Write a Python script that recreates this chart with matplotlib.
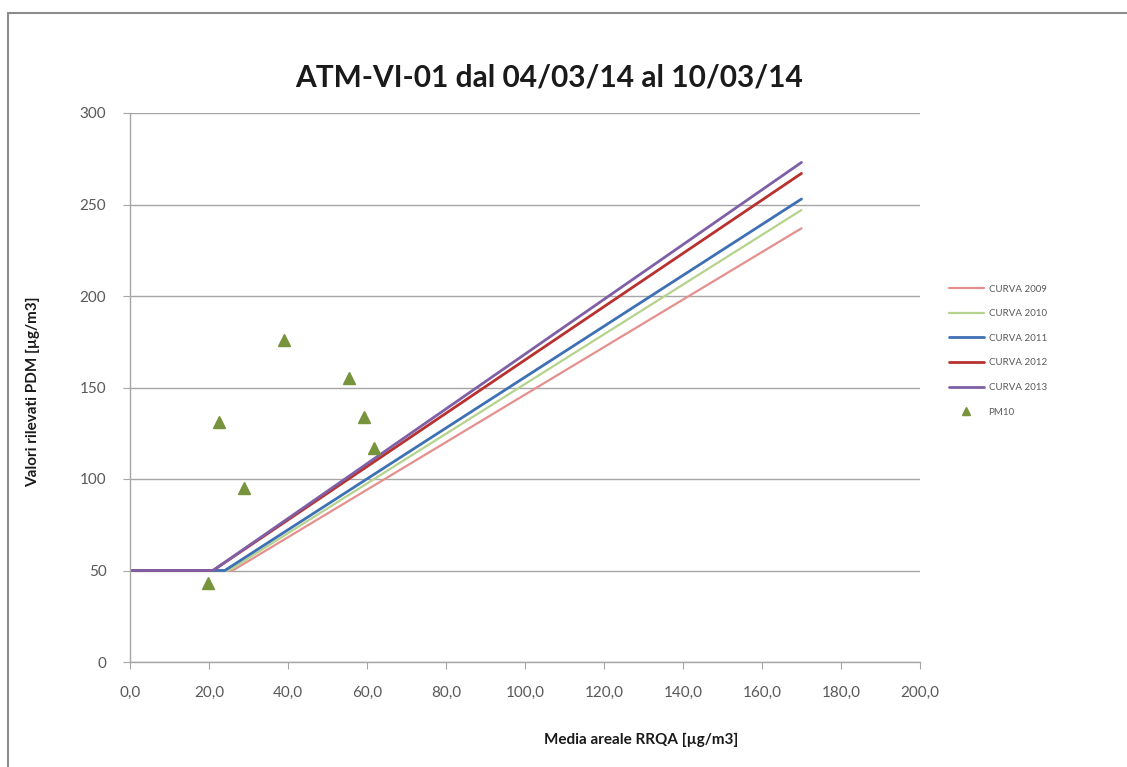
import matplotlib.pyplot as plt
from matplotlib.patches import Rectangle
from matplotlib.ticker import FuncFormatter

plt.rcParams['font.family'] = ['Lato', 'DejaVu Sans']

# curve data: flat at 50 up to a break point, then straight up to x=170
curve_names = ["CURVA 2009", "CURVA 2010", "CURVA 2011", "CURVA 2012", "CURVA 2013"]
curve_x = [[0, 26, 170], [0, 25, 170], [0, 24, 170], [0, 21, 170], [0, 21, 170]]
curve_y = [[50, 50, 237], [50, 50, 247], [50, 50, 253], [50, 50, 267], [50, 50, 273]]
curve_colors = ["#E5908E", "#B5D38C", "#3E70B5", "#B8312F", "#7F60A6"]
curve_widths = [1.6, 1.6, 2.0, 2.0, 2.0]

# PM10 measurements
pm10_x = [19.7, 22.5, 28.9, 39.0, 55.5, 59.2, 61.7]
pm10_y = [43, 131, 95, 176, 155, 134, 117]

fig = plt.figure(figsize=(11.27, 7.67), dpi=100)
ax = fig.add_axes([130/1127, 105/767, 790/1127, 549/767])

for i in range(len(curve_names)):
    ax.plot(curve_x[i], curve_y[i], color=curve_colors[i], lw=curve_widths[i],
            label=curve_names[i], solid_capstyle='round')
ax.plot(pm10_x, pm10_y, linestyle='none', marker='^', ms=9, color="#77933C",
        label="PM10")

ax.set_xlim(0, 200)
ax.set_ylim(0, 300)
ax.set_xticks(range(0, 201, 20))
ax.set_yticks(range(0, 301, 50))
ax.xaxis.set_major_formatter(FuncFormatter(lambda v, p: ("%.1f" % v).replace(".", ",")))
ax.grid(axis='y', color="#A6A6A6", lw=1)
ax.set_axisbelow(True)
for s in ['top', 'right']:
    ax.spines[s].set_visible(False)
for s in ['left', 'bottom']:
    ax.spines[s].set_color("#A6A6A6")
    ax.spines[s].set_linewidth(1)
ax.tick_params(colors="#A6A6A6", labelcolor="#595959", labelsize=11, length=5)
ax.tick_params(axis='x', pad=12)
ax.tick_params(axis='y', pad=12)

fig.text(549/1127, 1 - 78/767, "ATM-VI-01 dal 04/03/14 al 10/03/14", ha='center',
         va='center', fontsize=21.5, fontweight='bold', color="#1a1a1a")
fig.text(641/1127, 1 - 740/767, "Media areale RRQA [µg/m3]", ha='center',
         va='center', fontsize=11, fontweight='bold', color="#1a1a1a")
fig.text(33/1127, 1 - 392/767, "Valori rilevati PDM [µg/m3]", ha='center',
         va='center', fontsize=11, fontweight='bold', color="#1a1a1a", rotation=90)

leg = ax.legend(loc='upper left', bbox_to_anchor=(940/1127, 1 - 276/767),
                bbox_transform=fig.transFigure, frameon=False, fontsize=7,
                handlelength=3.6, labelspacing=1.6, handletextpad=0.5,
                markerscale=0.6)
for t in leg.get_texts():
    t.set_color("#595959")

fig.add_artist(Rectangle((8/1127, -0.1), 1.2, 1 - 13/767 + 0.1,
                         transform=fig.transFigure, fill=False,
                         edgecolor="#8C8C8C", lw=1.5))

fig.savefig("out.png", dpi=100)
